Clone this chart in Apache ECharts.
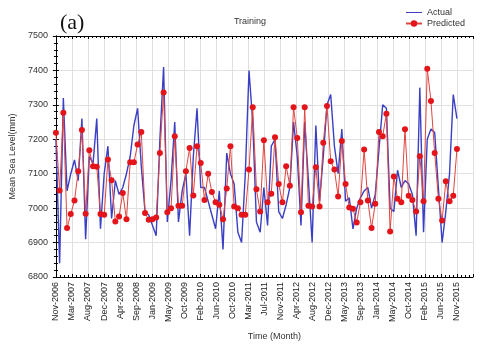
<!DOCTYPE html>
<html><head><meta charset="utf-8">
<script src="https://cdn.jsdelivr.net/npm/echarts@6/dist/echarts.min.js"></script>
<style>html,body{margin:0;padding:0;background:#fff}#c{width:480px;height:347px}</style>
</head><body><div id="c"></div>
<script>
// Tick labels on the x axis (evenly spaced in the original)
var tickLabels = ["Nov-2006","Mar-2007","Aug-2007","Dec-2007","Apr-2008","Sep-2008","Jan-2009","May-2009","Oct-2009","Feb-2010","Jun-2010","Oct-2010","Mar-2011","Jul-2011","Nov-2011","Apr-2012","Aug-2012","Dec-2012","May-2013","Sep-2013","Jan-2014","May-2014","Oct-2014","Feb-2015","Jun-2015","Nov-2015"];
// Monthly observations, Nov 2006 .. Nov 2015 (mm)
var actual = [7200,6840,7320,7050,7100,7140,7080,7260,6910,7150,7130,7260,6940,7100,7180,6970,7080,7040,7060,7100,7150,7240,7290,7120,6990,6980,6950,6920,7200,7410,6960,7080,7250,6960,7050,7100,6920,7150,7290,7060,7060,7020,6980,6940,7050,6880,7160,7100,7070,6930,6900,7100,7400,7250,6960,6930,7060,6950,7180,7200,6990,6970,7010,7060,7250,7150,6950,7250,7080,6900,7240,7020,7150,7300,7330,7180,7100,7230,7020,7030,6940,7000,7030,7050,7060,7000,7040,7170,7300,7290,7000,6990,7110,7060,7080,7070,7040,6920,7350,6930,7200,7230,7220,7060,6900,6990,7100,7330,7260];
var predicted = [7219,7051,7277,6942,6983,7022,7107,7227,6984,7168,7122,7120,6983,6981,7141,7081,6961,6976,7044,6968,7133,7133,7185,7221,6986,6966,6968,6973,7160,7336,6988,7000,7209,7007,7007,7107,7175,7037,7180,7131,7024,7100,7047,7017,7010,6968,7057,7180,7005,7000,6981,6981,7112,7293,7055,6990,7197,7017,7042,7206,7070,7017,7122,7065,7293,7204,6988,7293,7007,7005,7119,7005,7190,7297,7136,7112,7034,7195,7070,7002,6998,6958,7017,7170,7022,6942,7013,7221,7209,7274,6932,7092,7027,7017,7229,7036,7024,6990,7151,7020,7405,7311,7160,7027,6964,7078,7020,7036,7172];
var yMin = 6800, yMax = 7500, yStep = 100;

var labelStep = (actual.length - 1) / (tickLabels.length - 1);
function pairs(arr){ return arr.map(function(v,i){ return [i, v]; }); }
var font = 'Liberation Sans, Arial, sans-serif';
var chart = echarts.init(document.getElementById('c'), null, {renderer:'canvas'});
chart.setOption({
  animation:false,
  backgroundColor:'#fff',
  title:[
    {text:'Training', left:245, top:12, textAlign:'center', textStyle:{fontSize:9, fontWeight:'normal', color:'#333', fontFamily:font}},
    {text:'(a)', left:55, top:7, textStyle:{fontSize:22, fontWeight:'normal', color:'#111', fontFamily:'Liberation Serif, Times New Roman, serif'}}
  ],
  legend:{
    orient:'vertical', right:10, top:3, itemGap:2, itemWidth:16, itemHeight:8,
    textStyle:{fontSize:9, color:'#333', fontFamily:font},
    data:[{name:'Actual', icon:'path://M0,4 L16,4 L16,5 L0,5 Z'},{name:'Predicted'}]
  },
  grid:{left:54, right:7, top:36, bottom:70},
  xAxis:[{
    type:'value', min:0, max:labelStep*tickLabels.length, interval:labelStep,
    name:'Time (Month)', nameLocation:'middle', nameGap:55,
    nameTextStyle:{fontSize:9, color:'#333', fontFamily:font, padding:[0,0,0,20]},
    axisLine:{lineStyle:{color:'#000', width:1}},
    axisTick:{show:true, inside:true, length:3, lineStyle:{color:'#000'}},
    minorTick:{show:true, splitNumber:4, length:2, lineStyle:{color:'#000'}},
    splitLine:{show:true, lineStyle:{color:'#e0e0e0', width:1}},
    axisLabel:{rotate:90, fontSize:9, color:'#222', fontFamily:font, margin:5, showMaxLabel:false,
      formatter:function(v){ var k=Math.round(v/labelStep); return (k>=0 && k<tickLabels.length)?tickLabels[k]:''; }}
  },{
    type:'value', position:'top', min:0, max:labelStep*tickLabels.length, interval:labelStep,
    axisLine:{lineStyle:{color:'#000'}},
    axisTick:{show:true, inside:true, length:3, lineStyle:{color:'#000'}},
    minorTick:{show:true, splitNumber:4, length:2, lineStyle:{color:'#000'}},
    axisLabel:{show:false}, splitLine:{show:false}
  }],
  yAxis:[{
    type:'value', min:yMin, max:yMax, interval:yStep,
    name:'Mean Sea Level(mm)', nameLocation:'middle', nameGap:38, nameRotate:90,
    nameTextStyle:{fontSize:9, color:'#333', fontFamily:font},
    axisLine:{show:true, lineStyle:{color:'#000'}},
    axisTick:{show:true, inside:true, length:3, lineStyle:{color:'#000'}},
    minorTick:{show:true, splitNumber:5, length:2, lineStyle:{color:'#000'}},
    splitLine:{show:true, lineStyle:{color:'#e0e0e0'}},
    axisLabel:{fontSize:9, color:'#333', fontFamily:font, margin:8, formatter:function(v){ return String(v); }}
  },{
    type:'value', position:'right', min:yMin, max:yMax, interval:yStep,
    axisLine:{show:true, lineStyle:{color:'#000'}},
    axisTick:{show:true, inside:true, length:3, lineStyle:{color:'#000'}},
    minorTick:{show:true, splitNumber:5, length:2, lineStyle:{color:'#000'}},
    axisLabel:{show:false}, splitLine:{show:false}
  }],
  series:[
    {name:'Actual', type:'line', data:pairs(actual), showSymbol:false, symbol:'none',
     lineStyle:{color:'#3a3fc4', width:1.4}, itemStyle:{color:'#3a3fc4'}, z:2},
    {name:'Predicted', type:'line', data:pairs(predicted), symbol:'circle', symbolSize:6,
     lineStyle:{color:'#e0453f', width:1}, itemStyle:{color:'#e3141a'}, z:3}
  ]
});
</script></body></html>
